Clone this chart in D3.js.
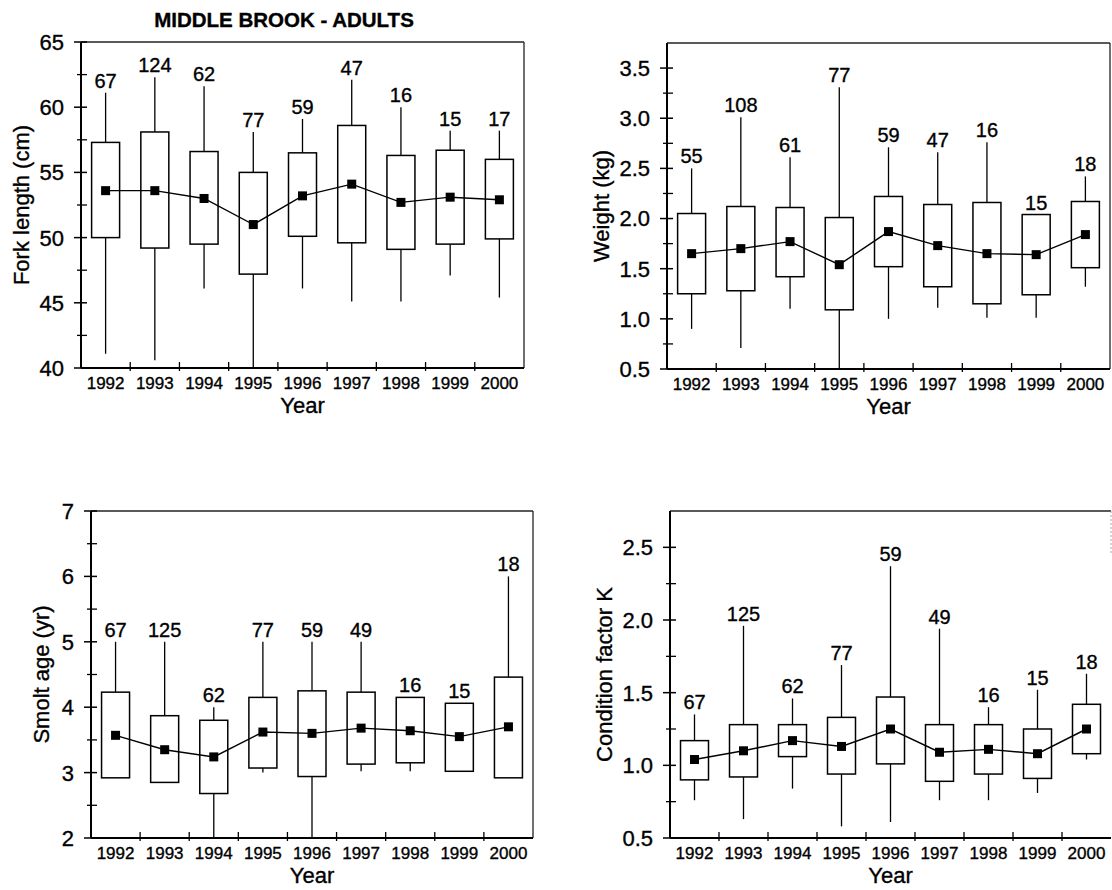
<!DOCTYPE html>
<html>
<head>
<meta charset="utf-8">
<script src="https://cdn.jsdelivr.net/npm/d3@7"></script>
<style>
  body { margin: 0; background: #fff; }
  svg { display: block; }
  text { font-family: "Liberation Sans", Arial, sans-serif; fill: #000; stroke: #000; stroke-width: 0.35px; }
</style>
</head>
<body>
<svg id="chart" width="1112" height="890"></svg>
<script>
// data
const years = ["1992","1993","1994","1995","1996","1997","1998","1999","2000"];

// fork length (cm)
const forkN    = [67, 124, 62, 77, 59, 47, 16, 15, 17];
const forkMax  = [61.1, 62.3, 61.6, 58.1, 59.1, 62.1, 60.0, 58.2, 58.2];
const forkQ3   = [57.3, 58.1, 56.6, 55.0, 56.5, 58.6, 56.3, 56.7, 56.0];
const forkMean = [53.6, 53.6, 53.0, 51.0, 53.2, 54.1, 52.7, 53.1, 52.9];
const forkQ1   = [50.0, 49.2, 49.5, 47.2, 50.1, 49.6, 49.1, 49.5, 49.9];
const forkMin  = [41.1, 40.6, 46.1, 40.0, 46.1, 45.1, 45.1, 47.1, 45.4];

// weight (kg)
const wtN    = [55, 108, 61, 77, 59, 47, 16, 15, 18];
const wtMax  = [2.50, 3.01, 2.61, 3.31, 2.71, 2.66, 2.76, 2.04, 2.42];
const wtQ3   = [2.05, 2.12, 2.11, 2.01, 2.22, 2.14, 2.16, 2.04, 2.17];
const wtMean = [1.65, 1.70, 1.77, 1.54, 1.87, 1.73, 1.65, 1.64, 1.84];
const wtQ1   = [1.25, 1.28, 1.42, 1.09, 1.52, 1.32, 1.15, 1.24, 1.51];
const wtMin  = [0.90, 0.71, 1.10, 0.50, 1.00, 1.11, 1.01, 1.01, 1.32];

// smolt age (yr)
const ageN    = [67, 125, 62, 77, 59, 49, 16, 15, 18];
const ageMax  = [5.0, 5.0, 4.0, 5.0, 5.0, 5.0, 4.15, 4.06, 6.0];
const ageQ3   = [4.23, 3.87, 3.80, 4.15, 4.25, 4.23, 4.15, 4.06, 4.46];
const ageMean = [3.57, 3.35, 3.24, 3.62, 3.60, 3.68, 3.64, 3.55, 3.70];
const ageQ1   = [2.92, 2.85, 2.68, 3.07, 2.94, 3.13, 3.15, 3.02, 2.92];
const ageMin  = [2.92, 2.85, 2.0, 3.0, 2.0, 3.02, 3.02, 3.02, 2.92];

// condition factor K
const kN    = [67, 125, 62, 77, 59, 49, 16, 15, 18];
const kMax  = [1.35, 1.96, 1.46, 1.69, 2.37, 1.94, 1.40, 1.52, 1.63];
const kQ3   = [1.17, 1.28, 1.28, 1.33, 1.47, 1.28, 1.28, 1.25, 1.42];
const kMean = [1.04, 1.10, 1.17, 1.13, 1.25, 1.09, 1.11, 1.08, 1.25];
const kQ1   = [0.90, 0.92, 1.06, 0.94, 1.01, 0.89, 0.94, 0.91, 1.08];
const kMin  = [0.76, 0.63, 0.84, 0.58, 0.61, 0.76, 0.76, 0.81, 1.04];

function rows(n, mx, q3, mean, q1, mn) {
    return years.map(function(y, i) {
        return { year: y, n: n[i], max: mx[i], q3: q3[i], mean: mean[i], q1: q1[i], min: mn[i] };
    });
}

const panels = [
    { data: rows(forkN, forkMax, forkQ3, forkMean, forkQ1, forkMin), left: 81, top: 42, width: 443, bottom: 368,
      domain: [40, 65], major: d3.range(40, 65.01, 5), minor: d3.range(42.5, 65, 5), fmt: d3.format("d"),
      label: "Fork length (cm)", labelOff: 52 },
    { data: rows(wtN, wtMax, wtQ3, wtMean, wtQ1, wtMin), left: 667, top: 43, width: 443, bottom: 369,
      domain: [0.5, 3.75], major: d3.range(0.5, 3.51, 0.5), minor: d3.range(0.75, 3.75, 0.5), fmt: d3.format(".1f"),
      label: "Weight (kg)", labelOff: 58 },
    { data: rows(ageN, ageMax, ageQ3, ageMean, ageQ1, ageMin), left: 91, top: 511, width: 442, bottom: 838,
      domain: [2, 7], major: d3.range(2, 7.01, 1), minor: d3.range(2.5, 7, 1), fmt: d3.format("d"),
      label: "Smolt age (yr)", labelOff: 42 },
    { data: rows(kN, kMax, kQ3, kMean, kQ1, kMin), left: 670, top: 511, width: 441, bottom: 838,
      domain: [0.5, 2.75], major: d3.range(0.5, 2.51, 0.5), minor: d3.range(0.75, 2.75, 0.5), fmt: d3.format(".1f"),
      label: "Condition factor K", labelOff: 58, faintRight: true }
];

const svg = d3.select("#chart");

// title
svg.append("text")
    .attr("x", 284).attr("y", 27)
    .attr("text-anchor", "middle")
    .style("font-size", "20.5px").style("font-weight", "bold")
    .text("MIDDLE BROOK - ADULTS");

panels.forEach(function(p) {
    const h = p.bottom - p.top;
    const g = svg.append("g").attr("transform", "translate(" + p.left + "," + p.top + ")");

    const x = d3.scaleBand().domain(years).range([0, p.width]).padding(0);
    const y = d3.scaleLinear().domain(p.domain).range([h, 0]);
    const cx = function(d) { return x(d.year) + x.bandwidth() / 2; };
    const bw = 28;

    // frame: top and right thin
    g.append("line").attr("x1", 0).attr("x2", p.width).attr("y1", 0).attr("y2", 0)
        .attr("stroke", "#222").attr("stroke-width", 1.3);
    if (p.faintRight) {
        g.append("line").attr("x1", p.width).attr("x2", p.width).attr("y1", 0).attr("y2", h * 0.13)
            .attr("stroke", "#aaa").attr("stroke-width", 1).attr("stroke-dasharray", "2,2");
    } else {
        g.append("line").attr("x1", p.width).attr("x2", p.width).attr("y1", 0).attr("y2", h)
            .attr("stroke", "#222").attr("stroke-width", 1.3);
    }

    // y ticks (crossing the axis)
    g.selectAll(".maj").data(p.major).enter().append("line")
        .attr("x1", -7).attr("x2", 6)
        .attr("y1", function(d) { return y(d); }).attr("y2", function(d) { return y(d); })
        .attr("stroke", "#000").attr("stroke-width", 1.5);
    g.selectAll(".min").data(p.minor).enter().append("line")
        .attr("x1", -4).attr("x2", 6)
        .attr("y1", function(d) { return y(d); }).attr("y2", function(d) { return y(d); })
        .attr("stroke", "#000").attr("stroke-width", 1.3);
    g.selectAll(".ylab").data(p.major).enter().append("text")
        .attr("x", -17).attr("y", function(d) { return y(d); })
        .attr("dy", "0.36em")
        .attr("text-anchor", "end")
        .style("font-size", "22px")
        .text(p.fmt);

    // x ticks at category boundaries
    g.selectAll(".xt").data(years.slice(1)).enter().append("line")
        .attr("x1", function(d) { return x(d); }).attr("x2", function(d) { return x(d); })
        .attr("y1", h - 6).attr("y2", h + 3)
        .attr("stroke", "#000").attr("stroke-width", 1.3);
    g.selectAll(".xlab").data(years).enter().append("text")
        .attr("x", function(d) { return x(d) + x.bandwidth() / 2; })
        .attr("y", h + 21)
        .attr("text-anchor", "middle")
        .style("font-size", "17px")
        .text(function(d) { return d; });

    // axis titles
    g.append("text")
        .attr("x", p.width / 2).attr("y", h + 45)
        .attr("text-anchor", "middle")
        .style("font-size", "22px")
        .text("Year");
    g.append("text")
        .attr("transform", "translate(" + (-p.labelOff) + "," + (h / 2) + ") rotate(-90)")
        .attr("text-anchor", "middle")
        .style("font-size", "22px")
        .text(p.label);

    // whiskers
    g.selectAll(".whisk").data(p.data).enter().append("line")
        .attr("x1", cx).attr("x2", cx)
        .attr("y1", function(d) { return y(d.max); })
        .attr("y2", function(d) { return y(d.min); })
        .attr("stroke", "#000").attr("stroke-width", 1.3);

    // boxes
    g.selectAll(".box").data(p.data).enter().append("rect")
        .attr("x", function(d) { return cx(d) - bw / 2; })
        .attr("width", bw)
        .attr("y", function(d) { return y(d.q3); })
        .attr("height", function(d) { return y(d.q1) - y(d.q3); })
        .attr("fill", "#fff").attr("stroke", "#000").attr("stroke-width", 1.5);

    // mean line + markers
    g.append("path")
        .datum(p.data)
        .attr("fill", "none")
        .attr("stroke", "#000")
        .attr("stroke-width", 1.4)
        .attr("d", d3.line()
            .x(cx)
            .y(function(d) { return y(d.mean); }));
    g.selectAll(".mk").data(p.data).enter().append("rect")
        .attr("x", function(d) { return cx(d) - 4.5; })
        .attr("y", function(d) { return y(d.mean) - 4.5; })
        .attr("width", 9).attr("height", 9)
        .attr("fill", "#000");

    // sample sizes
    g.selectAll(".cnt").data(p.data).enter().append("text")
        .attr("x", cx)
        .attr("y", function(d) { return y(d.max) - 5; })
        .attr("text-anchor", "middle")
        .style("font-size", "20px")
        .text(function(d) { return d.n; });

    // left and bottom axes drawn last, heavier
    g.append("line").attr("x1", 0).attr("x2", 0).attr("y1", 0).attr("y2", h)
        .attr("stroke", "#000").attr("stroke-width", 2);
    g.append("line").attr("x1", 0).attr("x2", p.width).attr("y1", h).attr("y2", h)
        .attr("stroke", "#000").attr("stroke-width", 1.8);
});
</script>
</body>
</html>
